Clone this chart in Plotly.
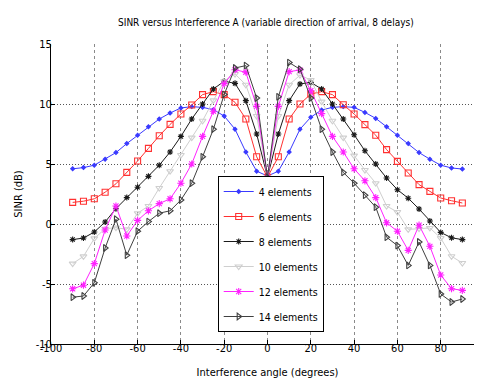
import plotly.graph_objects as go

angles = list(range(-90, 95, 5))

sinr_4 = [4.6, 4.7, 4.9, 5.4, 5.95, 6.7, 7.4, 8.1, 8.75, 9.25, 9.67, 9.78, 9.72, 9.53, 9.0, 7.9, 6.0, 4.4, 4.0,
          4.4, 6.0, 7.9, 8.9, 9.5, 9.72, 9.78, 9.72, 9.3, 8.8, 8.1, 7.4, 6.7, 5.95, 5.4, 4.9, 4.67, 4.58]
sinr_6 = [1.8, 1.9, 2.1, 2.65, 3.35, 4.3, 5.25, 6.3, 7.35, 8.3, 9.17, 9.92, 10.78, 11.03, 10.78, 10.14, 8.75, 5.6, 3.9,
          5.6, 8.75, 10.0, 10.83, 11.03, 10.78, 9.94, 9.17, 8.28, 7.4, 6.2, 5.22, 4.25, 3.28, 2.72, 2.17, 1.94, 1.75]
sinr_8 = [-1.3, -1.17, -0.67, 0.17, 1.28, 2.2, 3.06, 3.97, 4.9, 6.0, 7.3, 8.75, 10.0, 11.25, 11.9, 11.72, 10.28, 7.5, 3.9,
          7.5, 10.28, 11.67, 11.8, 11.25, 10.0, 8.75, 7.44, 6.1, 5.0, 3.83, 2.86, 2.15, 1.25, 0.25, -0.7, -1.15, -1.3]
sinr_10 = [-3.3, -2.7, -1.2, -0.4, -0.3, -0.45, 0.9, 1.5, 3.0, 4.4, 5.75, 7.2, 8.6, 10.3, 11.9, 12.5, 11.6, 9.0, 3.9,
           9.0, 11.6, 12.4, 12.0, 10.2, 8.6, 7.2, 5.7, 4.5, 3.4, 1.5, 1.0, -0.45, -0.39, -0.33, -1.17, -2.69, -3.25]
sinr_12 = [-5.4, -5.1, -3.3, -0.5, 1.5, -1.0, 0.3, 1.1, 1.7, 2.1, 3.4, 5.0, 7.3, 9.4, 11.7, 12.85, 12.65, 9.8, 3.9,
           9.8, 12.7, 12.83, 11.1, 9.2, 7.3, 6.0, 4.6, 3.6, 2.2, 0.1, -0.6, -2.2, -0.1, -1.86, -4.25, -5.39, -5.53]
sinr_14 = [-6.1, -6.0, -4.9, -2.0, 0.4, -2.6, -0.6, 0.2, 0.9, 1.1, 2.0, 3.4, 5.6, 7.9, 10.8, 13.0, 13.2, 10.5, 3.9,
           10.6, 13.45, 12.9, 10.5, 7.9, 6.0, 4.3, 3.4, 2.4, 1.4, -1.1, -1.8, -3.45, -1.5, -3.45, -5.83, -6.5, -6.25]

series_names = ["4 elements", "6 elements", "8 elements", "10 elements", "12 elements", "14 elements"]
series_values = [sinr_4, sinr_6, sinr_8, sinr_10, sinr_12, sinr_14]
series_colors = ["#3a3aff", "#ff3030", "#1a1a1a", "#cfcfcf", "#ff22ff", "#404040"]
series_symbols = ["diamond", "square-open", "asterisk-open", "triangle-down-open", "asterisk-open", "triangle-right-open"]
series_sizes = [3, 6, 5, 6, 6, 6]

x_ticks = [-100, -80, -60, -40, -20, 0, 20, 40, 60, 80, 100]
y_ticks = [-10, -5, 0, 5, 10, 15]

FONT = "Liberation Sans Narrow, DejaVu Sans Condensed, Arial Narrow, Liberation Sans, sans-serif"

fig = go.Figure()
for name, vals, col, sym, sz in zip(series_names, series_values, series_colors, series_symbols, series_sizes):
    fig.add_trace(go.Scatter(
        x=angles, y=vals, mode="lines+markers", name=name, legendgroup=name,
        line=dict(color=col, width=1),
        marker=dict(symbol=sym, size=sz, color=col, line=dict(color=col, width=1.1)),
    ))

fig.update_layout(
    width=482, height=379,
    margin=dict(l=43, r=6, t=36, b=43),
    paper_bgcolor="white", plot_bgcolor="white",
    font=dict(family=FONT, size=11, color="black"),
    title=dict(text="SINR versus Interference A (variable direction of arrival, 8 delays)",
               x=0.535, xanchor="center", y=0.962, yanchor="middle",
               font=dict(family=FONT, size=10, color="black")),
    showlegend=True,
    legend=dict(x=0.385, y=0.56, xanchor="left", yanchor="top",
                bgcolor="white", bordercolor="black", borderwidth=1,
                font=dict(family=FONT, size=10.5, color="black"),
                itemwidth=30, tracegroupgap=6),
    annotations=[dict(text="100", x=100, xref="x", y=0, yref="paper", yanchor="top",
                      xanchor="center", yshift=4, showarrow=False,
                      font=dict(family=FONT, size=11, color="black"))],
)
fig.update_xaxes(
    range=[-100, 100], tickvals=x_ticks[:-1], ticktext=[str(v) for v in x_ticks[:-1]],
    showline=True, linecolor="black", linewidth=1, mirror=False,
    ticks="inside", ticklen=4, tickcolor="black",
    showgrid=True, gridcolor="#8a8a8a", gridwidth=1, griddash="3px,3px",
    zeroline=False, ticklabelstandoff=-6,
    title=dict(text="Interference angle (degrees)", standoff=14, font=dict(family=FONT, size=11)),
    tickfont=dict(family=FONT, size=11),
)
fig.update_yaxes(
    range=[-10, 15], tickvals=y_ticks, ticktext=[str(v) for v in y_ticks],
    showline=True, linecolor="black", linewidth=1, mirror=False,
    ticks="inside", ticklen=4, tickcolor="black",
    showgrid=True, gridcolor="#555555", gridwidth=1, griddash="1px,2px",
    zeroline=False, ticklabelstandoff=-4,
    title=dict(text="SINR (dB)", standoff=10, font=dict(family=FONT, size=11)),
    tickfont=dict(family=FONT, size=11),
)

fig.write_html("out.html")
